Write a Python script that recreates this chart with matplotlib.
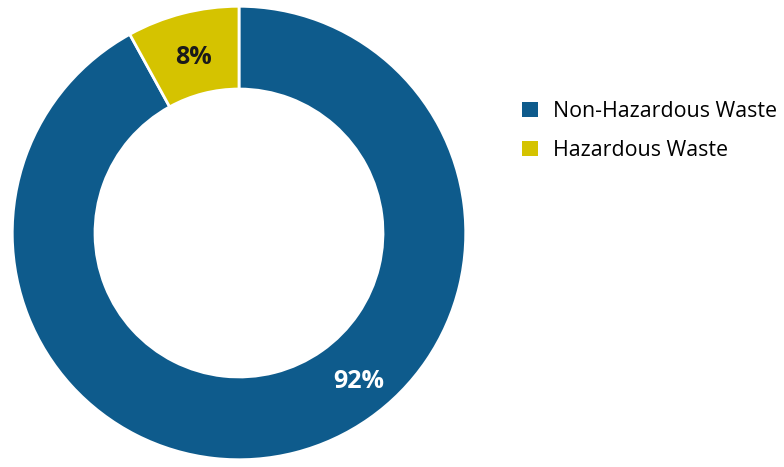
import numpy as np
import matplotlib
matplotlib.use("Agg")
import matplotlib.pyplot as plt
from matplotlib.patches import Patch

labels = ["Non-Hazardous Waste", "Hazardous Waste"]
shares = [92, 8]
colors = ["#0e5b8c", "#d5c300"]

plt.rcParams['font.family'] = ['Open Sans', 'DejaVu Sans']

fig = plt.figure(figsize=(7.84, 4.67), dpi=100)
ax = fig.add_axes([10/784, 5/467, 458/784, 458/467])

# donut, clockwise from 12 o'clock
wedges, _ = ax.pie(shares, colors=colors, startangle=90, counterclock=False,
                   radius=1.0, wedgeprops=dict(width=0.365, edgecolor='white', linewidth=2))
ax.set_xlim(-1.01, 1.01)
ax.set_ylim(-1.01, 1.01)
ax.set_aspect('equal')
ax.axis('off')

# percentage labels placed in the ring
def ring_xy(angle_deg, r=0.82):
    a = np.deg2rad(angle_deg)
    return r * np.cos(a), r * np.sin(a)

x, y = ring_xy(-51, 0.84)
ax.text(x, y, f"{shares[0]}%", color='white', fontsize=18, fontweight='bold',
        ha='center', va='center')
x, y = ring_xy(90 + shares[1] / 100 * 360 / 2, 0.80)
ax.text(x, y, f"{shares[1]}%", color='#1a1a1a', fontsize=18, fontweight='bold',
        ha='center', va='center')

handles = [Patch(facecolor=c, edgecolor='none') for c in colors]
fig.legend(handles, labels, loc='center left', bbox_to_anchor=(503/784, 1 - 131/467),
           frameon=False, fontsize=15.4, handlelength=0.72, handleheight=0.72,
           handletextpad=0.7, labelspacing=0.85)

fig.savefig("out.png", dpi=100)
